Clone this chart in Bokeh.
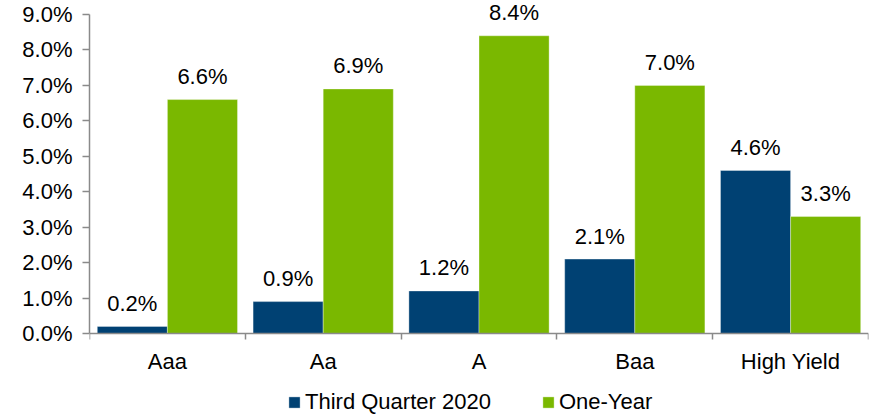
from bokeh.plotting import figure
from bokeh.models import (ColumnDataSource, Range1d, FixedTicker, PrintfTickFormatter,
                          Legend, LegendItem, LabelSet)
from bokeh.core.properties import value
from bokeh.transform import dodge
from bokeh.embed import file_html
from bokeh.resources import INLINE

categories = ["Aaa", "Aa", "A", "Baa", "High Yield"]
third_quarter_2020 = [0.2, 0.9, 1.2, 2.1, 4.6]
one_year = [6.6, 6.9, 8.4, 7.0, 3.3]
y_ticks = [0, 1, 2, 3, 4, 5, 6, 7, 8, 9]
series_names = ["Third Quarter 2020", "One-Year"]

BLUE = "#004173"
GREEN = "#7AB800"
AXIS = "#8a8a8a"
FONT = "Liberation Sans"
FS = "22px"

# layout geometry (pixels): 9% tick at y=14, 0% at y=333, canvas height 415
H = 415
TOP_PX, ZERO_PX = 14, 333
ppu = (ZERO_PX - TOP_PX) / 9.0
y_start = -(H - ZERO_PX) / ppu
y_end = 9 + TOP_PX / ppu

xpos = [i + 0.5 for i in range(len(categories))]
src = ColumnDataSource(dict(
    x=xpos,
    q3=third_quarter_2020,
    yr=one_year,
    q3_lbl=[f"{v:.1f}%" for v in third_quarter_2020],
    yr_lbl=[f"{v:.1f}%" for v in one_year],
))

p = figure(width=869, height=H, output_backend="svg", toolbar_location=None,
           x_range=Range1d(0, len(categories)), y_range=Range1d(y_start, y_end),
           min_border_left=89, min_border_right=1, min_border_top=0, min_border_bottom=0)
p.outline_line_color = None
p.grid.visible = False

r1 = p.vbar(x=dodge("x", -0.225, range=p.x_range), top="q3", width=0.45, source=src,
            fill_color=BLUE, line_color="white", line_alpha=0.35, line_width=1)
r2 = p.vbar(x=dodge("x", 0.225, range=p.x_range), top="yr", width=0.45, source=src,
            fill_color=GREEN, line_color="white", line_alpha=0.35, line_width=1)

for col, lbl, off in (("q3", "q3_lbl", -0.225), ("yr", "yr_lbl", 0.225)):
    ls = LabelSet(x=dodge("x", off, range=p.x_range), y=col, text=lbl, source=src,
                  text_align="center", text_baseline="middle", y_offset=23,
                  text_font=value(FONT), text_font_size=value(FS), text_color="black")
    p.add_layout(ls)

# y axis
ya = p.yaxis[0]
ya.ticker = FixedTicker(ticks=y_ticks)
ya.bounds = (0, 9)
ya.formatter = PrintfTickFormatter(format="%.1f%%")
ya.axis_line_color = AXIS
ya.axis_line_width = 1.5
ya.major_tick_line_color = AXIS
ya.major_tick_line_width = 1.5
ya.major_tick_out = 7
ya.major_tick_in = 0
ya.minor_tick_line_color = None
ya.major_label_standoff = 10
ya.major_label_text_font = FONT
ya.major_label_text_font_size = FS
ya.major_label_text_color = "black"

# x axis drawn at y = 0 inside the frame
xa = p.xaxis[0]
xa.fixed_location = 0
xa.ticker = FixedTicker(ticks=xpos, minor_ticks=list(range(len(categories) + 1)))
xa.major_label_overrides = {x: c for x, c in zip(xpos, categories)}
xa.axis_line_color = AXIS
xa.axis_line_width = 1.5
xa.major_tick_line_color = None
xa.major_tick_out = 0
xa.major_tick_in = 0
xa.minor_tick_line_color = AXIS
xa.minor_tick_line_width = 1.5
xa.minor_tick_out = 6
xa.minor_tick_in = 0
xa.major_label_standoff = 9
xa.major_label_text_font = FONT
xa.major_label_text_font_size = FS
xa.major_label_text_color = "black"

legend = Legend(items=[LegendItem(label=series_names[0], renderers=[r1]),
                       LegendItem(label=series_names[1], renderers=[r2])],
                orientation="horizontal", location=(198, 0),
                padding=0, margin=0, spacing=50, label_standoff=4,
                glyph_width=14, glyph_height=14,
                label_text_font=FONT, label_text_font_size=FS, label_text_color="black",
                border_line_color=None, background_fill_alpha=0)
p.add_layout(legend, "center")

open("out.html", "w").write(file_html(p, INLINE))
